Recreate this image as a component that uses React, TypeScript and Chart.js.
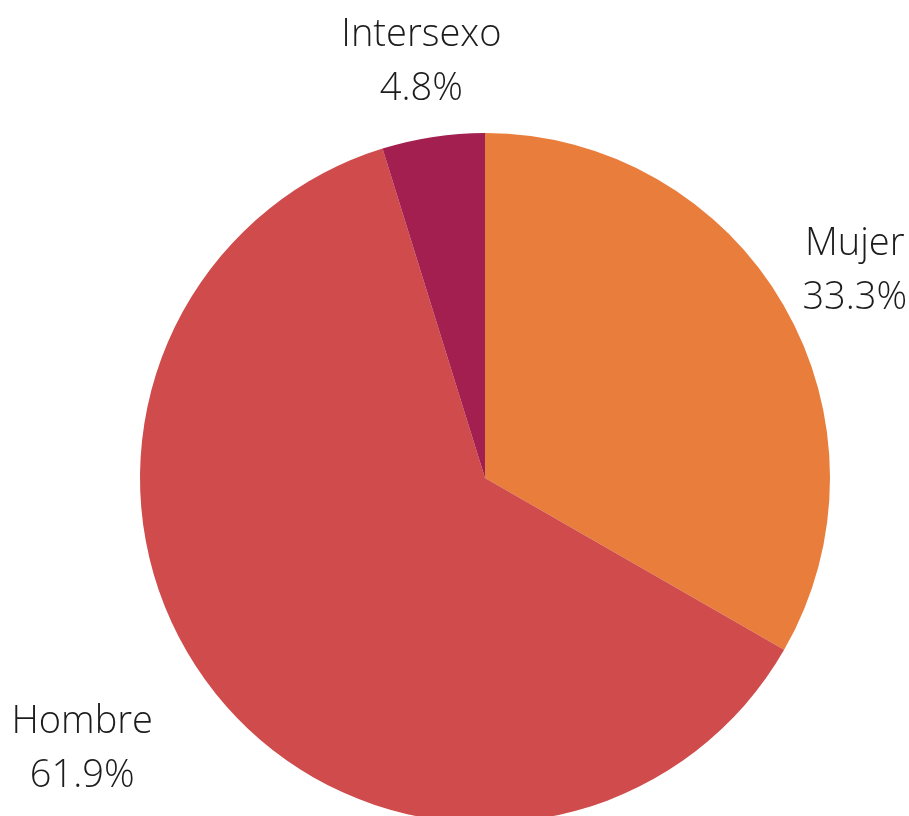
import React, { useEffect, useRef } from "react";
import { Chart, registerables } from "chart.js";

Chart.register(...registerables);

const categories = ["Mujer", "Hombre", "Intersexo"];
const values = [33.3, 61.9, 4.8];
const valueLabels = ["33.3%", "61.9%", "4.8%"];
const colors = ["#E97D3B", "#D04B4B", "#A31F50"];
// label placement style: distance from centre and nudges (px)
const labelDist = [418, 470, 410];
const labelNudgeX = [8, -36, -2];
const labelNudgeY = [13, -12, 0];

const labelPlugin = {
  id: "outerLabels",
  afterDraw(chart: any) {
    const ctx = chart.ctx;
    const meta = chart.getDatasetMeta(0);
    ctx.save();
    ctx.font = '300 38px "Open Sans"';
    ctx.fillStyle = "#1c1c1c";
    ctx.textAlign = "center";
    ctx.textBaseline = "alphabetic";
    meta.data.forEach((arc: any, i: number) => {
      const p = arc.getProps(["x", "y", "startAngle", "endAngle"], true);
      const mid = (p.startAngle + p.endAngle) / 2;
      const x = p.x + Math.cos(mid) * labelDist[i] + labelNudgeX[i];
      const y = p.y + Math.sin(mid) * labelDist[i] + labelNudgeY[i];
      ctx.fillText(categories[i], x, y - 27);
      ctx.fillText(valueLabels[i], x, y + 27);
    });
    ctx.restore();
  },
};

export default function App() {
  const ref = useRef<HTMLCanvasElement>(null);
  useEffect(() => {
    document.body.style.margin = "0";
    const chart = new Chart(ref.current!, {
      type: "pie",
      data: {
        labels: categories,
        datasets: [
          {
            data: values,
            backgroundColor: colors,
            borderWidth: 0,
          },
        ],
      },
      options: {
        responsive: false,
        animation: false,
        radius: 345,
        layout: { padding: 0 },
        plugins: {
          legend: { display: false },
          tooltip: { enabled: false },
        },
      },
      plugins: [labelPlugin],
    });
    return () => chart.destroy();
  }, []);
  return (
    <div
      style={{
        position: "absolute",
        left: 0,
        top: 0,
        width: 909,
        height: 816,
        overflow: "hidden",
        background: "#fff",
      }}
    >
      <canvas ref={ref} width={970} height={956} style={{ width: 970, height: 956, display: "block" }} />
    </div>
  );
}
